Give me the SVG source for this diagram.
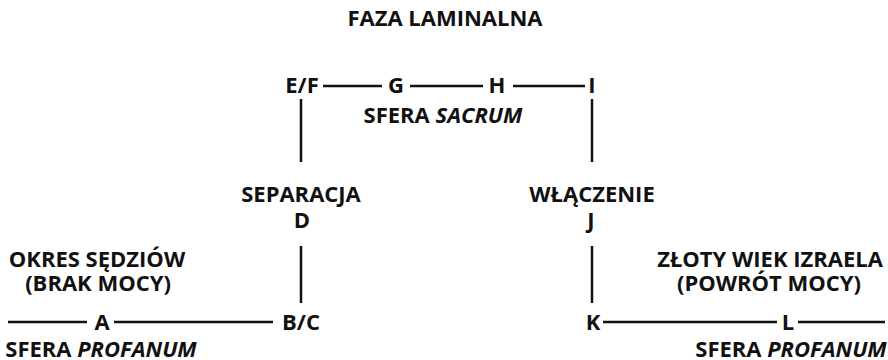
<svg xmlns="http://www.w3.org/2000/svg" width="888" height="360" viewBox="0 0 888 360">
<style>
  text { font-family: "Open Sans", "Noto Sans", "DejaVu Sans", sans-serif; font-weight: bold; font-size: 22px; fill: #111; text-anchor: middle; }
  .it { font-style: italic; }
  .ln { stroke: #111; stroke-width: 2.5; fill: none; }
</style>
<rect width="888" height="360" fill="#fff"/>
<g id="connectors">
  <line class="ln" x1="323" y1="86" x2="382" y2="86"/>
  <line class="ln" x1="410" y1="86" x2="483" y2="86"/>
  <line class="ln" x1="513" y1="86" x2="585" y2="86"/>
  <line class="ln" x1="301" y1="99" x2="301" y2="162"/>
  <line class="ln" x1="592" y1="99" x2="592" y2="162"/>
  <line class="ln" x1="301" y1="246" x2="301" y2="303"/>
  <line class="ln" x1="592" y1="246" x2="592" y2="303"/>
  <line class="ln" x1="8" y1="322" x2="87" y2="322"/>
  <line class="ln" x1="114" y1="322" x2="273" y2="322"/>
  <line class="ln" x1="603" y1="322" x2="777" y2="322"/>
  <line class="ln" x1="798" y1="322" x2="885" y2="322"/>
</g>
<g id="title"><text x="445" y="26">FAZA LAMINALNA</text></g>
<g id="EF"><text x="302" y="93">E/F</text></g>
<g id="G"><text x="396" y="93">G</text></g>
<g id="H"><text x="497" y="93">H</text></g>
<g id="I"><text x="592" y="93">I</text></g>
<g id="sacrum"><text x="443" y="123">SFERA <tspan class="it">SACRUM</tspan></text></g>
<g id="D"><text x="301" y="202">SEPARACJA</text><text x="302" y="228">D</text></g>
<g id="J"><text x="592" y="202">WŁĄCZENIE</text><text x="591" y="228">J</text></g>
<g id="okres"><text x="97" y="267">OKRES SĘDZIÓW</text><text x="98" y="291">(BRAK MOCY)</text></g>
<g id="zloty"><text x="770" y="267">ZŁOTY WIEK IZRAELA</text><text x="769" y="291">(POWRÓT MOCY)</text></g>
<g id="A"><text x="102" y="330">A</text></g>
<g id="BC"><text x="301" y="330">B/C</text></g>
<g id="K"><text x="593" y="330">K</text></g>
<g id="L"><text x="788" y="330">L</text></g>
<g id="profanum-left"><text x="101" y="357">SFERA <tspan class="it">PROFANUM</tspan></text></g>
<g id="profanum-right"><text x="791" y="357">SFERA <tspan class="it">PROFANUM</tspan></text></g>
</svg>
